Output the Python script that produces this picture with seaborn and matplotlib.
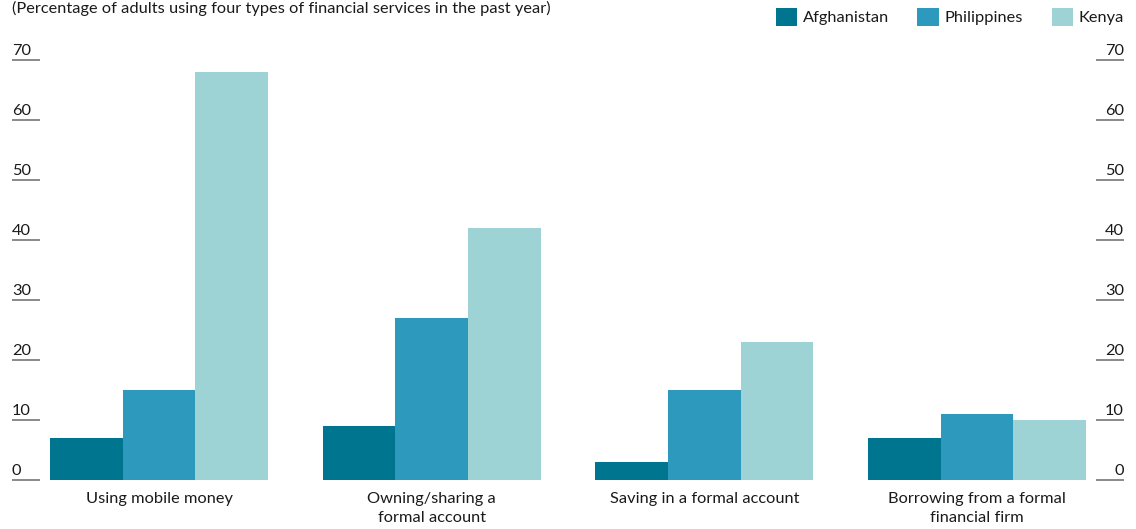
import matplotlib
matplotlib.use("Agg")
import matplotlib.pyplot as plt
import matplotlib.transforms as mtransforms
import seaborn as sns
import pandas as pd
from matplotlib.patches import Patch

categories = [
    "Using mobile money",
    "Owning/sharing a\nformal account",
    "Saving in a formal account",
    "Borrowing from a formal\nfinancial firm",
]
countries = ["Afghanistan", "Philippines", "Kenya"]
afghanistan = [7, 9, 3, 7]
philippines = [15, 27, 15, 11]
kenya = [68, 42, 23, 10]
y_ticks = [0, 10, 20, 30, 40, 50, 60, 70]
title = "(Percentage of adults using four types of financial services in the past year)"

colors = ["#00758F", "#2C99BD", "#9ED3D6"]
text_color = "#1a1a1a"
fs = 11.8

rows = []
for country, vals in zip(countries, [afghanistan, philippines, kenya]):
    for cat, v in zip(categories, vals):
        rows.append({"category": cat, "country": country, "value": v})
df = pd.DataFrame(rows)

sns.set_theme(style="white")
plt.rcParams["font.family"] = ["Lato", "DejaVu Sans"]

W, H = 1136, 529
fig = plt.figure(figsize=(W / 100, H / 100), dpi=100)
ax = fig.add_axes([40 / W, (H - 480) / H, 1056 / W, 420 / H])

sns.barplot(
    data=df, x="category", y="value", hue="country",
    order=categories, hue_order=countries,
    palette=colors, saturation=1, width=0.8, ax=ax, legend=False,
    errorbar=None,
)
for p in ax.patches:
    p.set_linewidth(0)

ax.set_ylim(0, 70)
ax.set_xlim(-0.437, 3.437)
ax.set_xlabel("")
ax.set_ylabel("")
for s in ax.spines.values():
    s.set_visible(False)

# Value labels sit on top of long tick rules, on both sides
ax.set_yticks(y_ticks)
ax.set_yticklabels([str(t) for t in y_ticks])
tick_len = 28 * 72 / 100
ax.tick_params(axis="y", which="major", left=True, right=True,
               labelleft=True, labelright=True, direction="out",
               length=tick_len, width=1.1, color="#6a6a6a", pad=0,
               labelsize=fs, labelcolor=text_color)
lift = mtransforms.ScaledTranslation(0, 2 / 100, fig.dpi_scale_trans)
for tick in ax.yaxis.get_major_ticks():
    tick.label1.set_horizontalalignment("left")
    tick.label1.set_verticalalignment("bottom")
    tick.label1.set_transform(tick.label1.get_transform() + lift)
    tick.label2.set_horizontalalignment("right")
    tick.label2.set_verticalalignment("bottom")
    tick.label2.set_transform(tick.label2.get_transform() + lift)

ax.tick_params(axis="x", bottom=False, labelsize=fs, labelcolor=text_color, pad=3)
for lab in ax.get_xticklabels():
    lab.set_linespacing(1.45)

# Legend: colour squares with country names along the top right
handles = [Patch(facecolor=c, edgecolor="none", label=n) for c, n in zip(colors, countries)]
fig.legend(handles=handles, loc="upper right", bbox_to_anchor=(1124 / W, 1 - 8 / H),
           ncol=3, frameon=False, fontsize=fs, handlelength=1.3, handleheight=1.3,
           handletextpad=0.35, columnspacing=1.75, borderaxespad=0, borderpad=0,
           labelcolor=text_color)

fig.text(12 / W, 1 - 13 / H, title, ha="left", va="baseline",
         fontsize=fs, color=text_color)

fig.savefig("out.png", dpi=100)
